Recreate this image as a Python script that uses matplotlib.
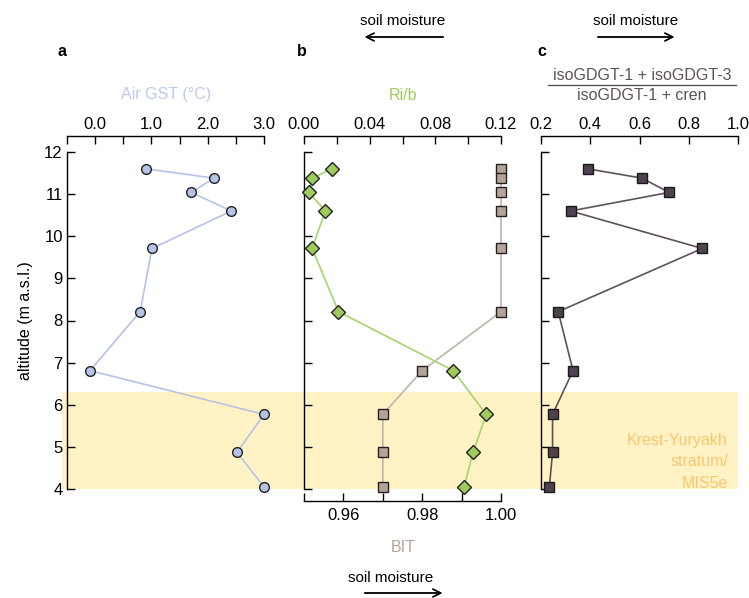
import matplotlib
matplotlib.use("Agg")
import matplotlib.pyplot as plt
from matplotlib.lines import Line2D
from matplotlib.ticker import MultipleLocator

# data
altitude = [11.60, 11.38, 11.04, 10.60, 9.71, 8.21, 6.81, 5.77, 4.87, 4.05]
air_gst = [0.91, 2.11, 1.71, 2.42, 1.01, 0.80, -0.09, 3.00, 2.52, 3.00]
ri_b = [0.017, 0.005, 0.003, 0.013, 0.005, 0.021, 0.091, 0.111, 0.103, 0.0975]
bit = [1.00, 1.00, 1.00, 1.00, 1.00, 1.00, 0.98, 0.97, 0.97, 0.97]
iso_ratio = [0.39, 0.61, 0.72, 0.32, 0.855, 0.27, 0.33, 0.247, 0.247, 0.234]

stratum_top = 6.3
stratum_bottom = 4.0

gst_col = '#b7c3e6'
gst_txt = '#bfc9ec'
rib_col = '#9dcc5c'
rib_line = '#a6d46c'
bit_col = '#b5a399'
bit_line = '#c3b3aa'
iso_col = '#4e434d'
iso_line = '#5e525c'
shade_col = '#fff3c6'
stratum_txt = '#fdc46e'

plt.rcParams['font.family'] = ['Liberation Sans', 'DejaVu Sans']
plt.rcParams['font.size'] = 10

TICK_FS = 12
W, H = 749, 598
fig = plt.figure(figsize=(W / 100, H / 100), dpi=100)


def px(x, y):
    return x / W, 1 - y / H


y_top, y_bot = 152, 489


def style_top(ax):
    ax.xaxis.tick_top()
    ax.spines['top'].set_visible(True)
    ax.spines['bottom'].set_visible(False)
    ax.spines['top'].set_position(('outward', 11.5))
    ax.tick_params(axis='x', which='both', direction='in', length=6, width=1.0,
                   labelsize=TICK_FS, pad=3, top=True, bottom=False,
                   labeltop=True, labelbottom=False)


def make_ax(x0, x1):
    ax = fig.add_axes([x0 / W, 1 - y_bot / H, (x1 - x0) / W, (y_bot - y_top) / H])
    ax.set_facecolor('none')
    ax.set_zorder(2)
    ax.set_ylim(4, 12)
    ax.spines['right'].set_visible(False)
    ax.spines['left'].set_bounds(4, 12)
    for s in ax.spines.values():
        s.set_linewidth(1.0)
    ax.yaxis.set_major_locator(MultipleLocator(1))
    ax.tick_params(axis='y', direction='in', length=5.5, width=1.0,
                   labelsize=TICK_FS, pad=3)
    style_top(ax)
    return ax


# background stratum shading across all panels
bg = fig.add_axes([62 / W, 1 - y_bot / H, (738 - 62) / W, (y_bot - y_top) / H])
bg.set_ylim(4, 12)
bg.axhspan(stratum_bottom, stratum_top, color=shade_col, lw=0)
bg.axis('off')
bg.set_zorder(0)

# panel a
ax_a = make_ax(67, 264)
ax_a.set_xlim(-0.5, 3.0)
ax_a.xaxis.set_major_locator(MultipleLocator(1.0))
ax_a.xaxis.set_minor_locator(MultipleLocator(0.5))
ax_a.xaxis.set_major_formatter(lambda v, p: f'{v:.1f}')
ax_a.plot(air_gst, altitude, '-', color=gst_col, lw=1.2, zorder=2, clip_on=False)
ax_a.plot(air_gst, altitude, 'o', ms=7, mfc=gst_col, mec='#222222', mew=1.0,
          zorder=3, clip_on=False)
ax_a.set_ylabel('altitude (m a.s.l.)', fontsize=11.5, labelpad=8)

# panel b (Ri/b on top, BIT on bottom)
ax_b = make_ax(304, 501)
ax_bit = ax_b.twiny()
style_top(ax_b)  # twiny moves the ticks of ax_b to the bottom, put them back
ax_b.set_xlim(0, 0.12)
ax_b.xaxis.set_major_locator(MultipleLocator(0.04))
ax_b.xaxis.set_minor_locator(MultipleLocator(0.02))
ax_b.xaxis.set_major_formatter(lambda v, p: f'{v:.2f}')
ax_b.tick_params(axis='y', labelleft=False)

ax_bit.set_facecolor('none')
ax_bit.set_xlim(0.95, 1.00)
ax_bit.set_ylim(4, 12)
for s in ('top', 'left', 'right'):
    ax_bit.spines[s].set_visible(False)
ax_bit.spines['bottom'].set_visible(True)
ax_bit.spines['bottom'].set_position(('outward', 8.5))
ax_bit.spines['bottom'].set_linewidth(1.0)
ax_bit.xaxis.tick_bottom()
ax_bit.xaxis.set_major_locator(MultipleLocator(0.02))
ax_bit.xaxis.set_minor_locator(MultipleLocator(0.01))
ax_bit.xaxis.set_major_formatter(lambda v, p: f'{v:.2f}')
ax_bit.tick_params(axis='x', which='both', direction='in', length=6, width=1.0,
                   labelsize=TICK_FS, pad=5, top=False, bottom=True,
                   labeltop=False, labelbottom=True)
ax_bit.plot(bit, altitude, '-', color=bit_line, lw=1.2, zorder=2, clip_on=False)
ax_bit.plot(bit, altitude, 's', ms=6.5, mfc=bit_col, mec='#222222', mew=1.0,
            zorder=3, clip_on=False)

ax_b.set_zorder(3)
ax_b.plot(ri_b, altitude, '-', color=rib_line, lw=1.2, zorder=2, clip_on=False)
ax_b.plot(ri_b, altitude, 'D', ms=7.5, mfc=rib_col, mec='#222222', mew=1.0,
          zorder=3, clip_on=False)

# panel c
ax_c = make_ax(541, 738)
ax_c.set_xlim(0.2, 1.0)
ax_c.xaxis.set_major_locator(MultipleLocator(0.2))
ax_c.xaxis.set_major_formatter(lambda v, p: f'{v:.1f}')
ax_c.tick_params(axis='y', labelleft=False)
ax_c.plot(iso_ratio, altitude, '-', color=iso_line, lw=1.2, zorder=2, clip_on=False)
ax_c.plot(iso_ratio, altitude, 's', ms=6.5, mfc=iso_col, mec='#1a1a1a', mew=1.0,
          zorder=3, clip_on=False)

# panel letters and axis titles
for lab, x in (('a', 58), ('b', 297), ('c', 537)):
    fig.text(*px(x, 52), lab, fontsize=11.5, fontweight='bold', va='center')
fig.text(*px(166, 95), 'Air GST (°C)', color=gst_txt, fontsize=11.5,
         ha='center', va='center')
fig.text(*px(403, 95), 'Ri/b', color=rib_col, fontsize=11.5, ha='center', va='center')
fig.text(*px(403, 548), 'BIT', color=bit_col, fontsize=11.5, ha='center', va='center')
fig.text(*px(642, 75), 'isoGDGT-1 + isoGDGT-3', color=iso_line, fontsize=11.5,
         ha='center', va='center')
fig.text(*px(642, 96), 'isoGDGT-1 + cren', color=iso_line, fontsize=11.5,
         ha='center', va='center')
fig.add_artist(Line2D([548 / W, 736 / W], [1 - 85 / H, 1 - 85 / H],
                      color=iso_line, lw=1.0))

# soil moisture arrows
for tx, ty, xa, xb, ya in ((403, 21, 446, 362, 37),
                           (636, 21, 595, 677, 37),
                           (391, 578, 362, 445, 593)):
    fig.text(*px(tx, ty), 'soil moisture', fontsize=11, ha='center', va='center')
    fig.add_artist(plt.annotate('', xy=px(xb, ya), xytext=px(xa, ya),
                                xycoords='figure fraction',
                                arrowprops=dict(arrowstyle='->', lw=1.0,
                                                color='black',
                                                mutation_scale=14)))

fig.text(*px(728, 462), 'Krest-Yuryakh\nstratum/\nMIS5e', color=stratum_txt,
         fontsize=11.5, ha='right', va='center', linespacing=1.5)

fig.savefig('out.png', dpi=100, facecolor='white')
